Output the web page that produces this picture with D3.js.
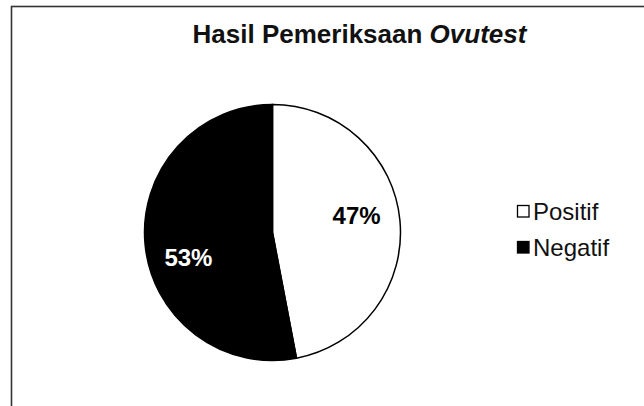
<!DOCTYPE html>
<html><head><meta charset="utf-8">
<script src="https://cdn.jsdelivr.net/npm/d3@7"></script>
<style>body{margin:0;background:#fff}svg{display:block}</style>
</head><body>
<svg id="c" width="644" height="406"></svg>
<script>
const categories = ["Positif", "Negatif"];
const values = [47, 53];
const labels = ["47%", "53%"];
const colors = ["#ffffff", "#000000"];
const labelColors = ["#000000", "#ffffff"];

const svg = d3.select("#c");
const font = "'Liberation Sans', Arial, sans-serif";

svg.append("rect").attr("x", 11.5).attr("y", 6.5).attr("width", 700).attr("height", 500)
  .attr("fill", "#fff").attr("stroke", "#333").attr("stroke-width", 1.6);

svg.append("text").attr("x", 359.5).attr("y", 43).attr("text-anchor", "middle")
  .attr("font-family", font).attr("font-weight", "bold").attr("font-size", 26)
  .attr("fill", "#111")
  .call(t => { t.append("tspan").text("Hasil Pemeriksaan ");
               t.append("tspan").attr("font-style", "italic").text("Ovutest"); });

const cx = 272.5, cy = 232.5, r = 128;
const pie = d3.pie().sort(null).value(d => d);
const arcs = pie(values);
const arc = d3.arc().innerRadius(0).outerRadius(r);
const g = svg.append("g").attr("transform", `translate(${cx},${cy})`);
g.selectAll("path").data(arcs).join("path")
  .attr("d", arc).attr("fill", (d, i) => colors[i])
  .attr("stroke", "#000").attr("stroke-width", 1.5);

const labelArc = d3.arc().innerRadius(r * 0.66).outerRadius(r * 0.66);
const dys = [-9, 17];
g.selectAll("text.lbl").data(arcs).join("text").attr("class", "lbl")
  .attr("x", d => labelArc.centroid(d)[0])
  .attr("y", (d, i) => labelArc.centroid(d)[1] + dys[i])
  .attr("dy", "0.35em").attr("text-anchor", "middle")
  .attr("font-family", font).attr("font-weight", "bold").attr("font-size", 24)
  .attr("fill", (d, i) => labelColors[i]).text((d, i) => labels[i]);

const leg = svg.append("g").attr("transform", "translate(517,205)");
categories.forEach((c, i) => {
  const row = leg.append("g").attr("transform", `translate(0,${i * 36})`);
  row.append("rect").attr("x", 0.5).attr("y", 0.5).attr("width", 11.5).attr("height", 11.5)
    .attr("fill", colors[i]).attr("stroke", "#000").attr("stroke-width", 1.3);
  row.append("text").attr("x", 16).attr("y", 14.5).attr("font-family", font)
    .attr("font-size", 24).attr("fill", "#111").text(c);
});
</script>
</body></html>
